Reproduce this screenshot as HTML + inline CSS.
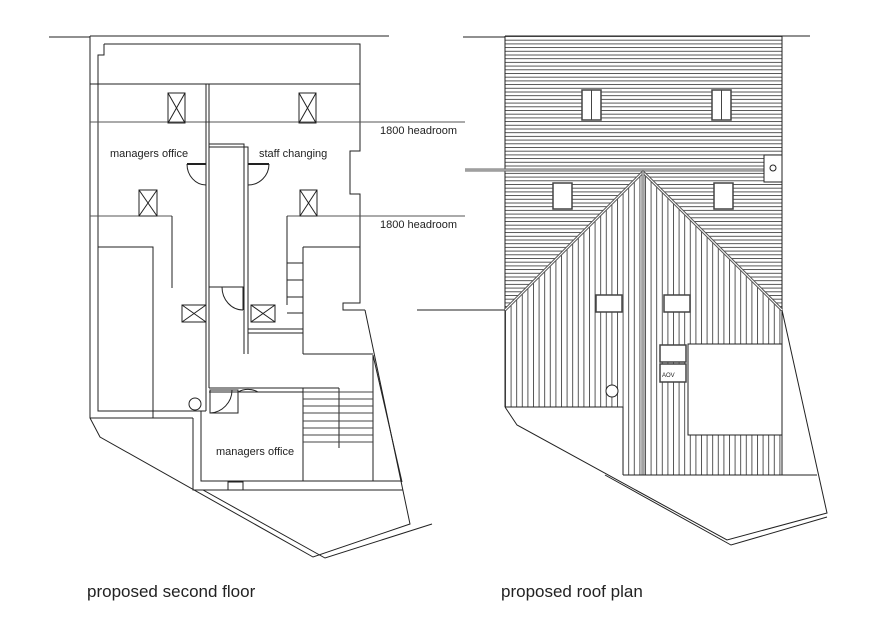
<!DOCTYPE html>
<html><head><meta charset="utf-8"><style>
html,body{margin:0;padding:0;background:#fff;}
svg{display:block;}
text{font-family:"Liberation Sans",sans-serif;fill:#222;}
</style></head><body>
<svg width="886" height="628" viewBox="0 0 886 628" xmlns="http://www.w3.org/2000/svg">
<defs>
<pattern id="hz" width="10" height="3.7" patternUnits="userSpaceOnUse" y="36">
<line x1="0" y1="0.5" x2="10" y2="0.5" stroke="#444" stroke-width="0.9"/>
</pattern>
<pattern id="vt" width="5.6" height="10" patternUnits="userSpaceOnUse" x="505">
<line x1="0.5" y1="0" x2="0.5" y2="10" stroke="#444" stroke-width="0.9"/>
</pattern>
</defs>
<g fill="none" stroke="#222" stroke-width="1">
<!-- LEFT PLAN -->
<line x1="49" y1="37" x2="90" y2="37"/>
<line x1="90" y1="36" x2="389" y2="36"/>
<polyline points="90,36 90,418 100,437 313,557 410,524 365,310"/>
<polyline points="193,418 193,490 203,490 325,558 432,524"/>
<polyline points="373,355 402,482"/>
<polyline points="104,44 360,44 360,151 350,151 350,194 360,194 360,303 343,303 343,310 365,310"/>
<polyline points="104,44 104,55 98,55 98,411 206,411"/>
<line x1="90" y1="418" x2="193" y2="418"/>
<line x1="90" y1="84" x2="360" y2="84"/>
<line x1="90" y1="122" x2="465" y2="122" stroke="#555"/>
<line x1="90" y1="216" x2="172" y2="216" stroke="#555"/>
<line x1="287" y1="216" x2="465" y2="216" stroke="#555"/>
<line x1="206" y1="84" x2="206" y2="411"/>
<line x1="209" y1="84" x2="209" y2="388"/>
<polyline points="209,144 244,144 244,354"/>
<polyline points="209,147 248,147 248,354"/>
<line x1="206" y1="164" x2="187" y2="164" stroke-width="2"/>
<path d="M187,164 A19,21 0 0 0 206,185"/>
<line x1="248" y1="164" x2="269" y2="164" stroke-width="2"/>
<path d="M269,164 A21,21 0 0 1 248,185"/>
<g>
<rect x="168" y="93" width="17" height="30"/><path d="M168,93 L185,123 M185,93 L168,123"/>
<rect x="299" y="93" width="17" height="30"/><path d="M299,93 L316,123 M316,93 L299,123"/>
<rect x="139" y="190" width="18" height="26"/><path d="M139,190 L157,216 M157,190 L139,216"/>
<rect x="300" y="190" width="17" height="26"/><path d="M300,190 L317,216 M317,190 L300,216"/>
<rect x="182" y="305" width="24" height="17"/><path d="M182,305 L206,322 M206,305 L182,322"/>
<rect x="251" y="305" width="24" height="17"/><path d="M251,305 L275,322 M275,305 L251,322"/>
</g>
<polyline points="172,216 172,288"/>
<polyline points="98,247 153,247 153,418"/>
<polyline points="287,216 287,305"/>
<polyline points="303,247 360,247"/>
<line x1="303" y1="247" x2="303" y2="354"/>
<line x1="287" y1="263" x2="303" y2="263"/>
<line x1="287" y1="280" x2="303" y2="280"/>
<line x1="287" y1="297" x2="303" y2="297"/>
<line x1="287" y1="313" x2="303" y2="313"/>
<line x1="248" y1="329" x2="303" y2="329"/>
<line x1="248" y1="333" x2="303" y2="333"/>
<polyline points="303,354 373,354"/>
<polyline points="209,287 243,287 243,310"/>
<path d="M222,287 A21,23 0 0 0 243,310"/>
<line x1="209" y1="388" x2="303" y2="388"/>
<line x1="209" y1="392" x2="303" y2="392"/>
<line x1="303" y1="388" x2="339" y2="388"/>
<line x1="303" y1="388" x2="303" y2="481"/>
<line x1="373" y1="355" x2="373" y2="481"/>
<line x1="339" y1="388" x2="339" y2="448"/>
<g stroke="#444">
<line x1="303" y1="392" x2="373" y2="392"/><line x1="303" y1="399" x2="373" y2="399"/>
<line x1="303" y1="406" x2="373" y2="406"/><line x1="303" y1="413" x2="373" y2="413"/>
<line x1="303" y1="421" x2="373" y2="421"/><line x1="303" y1="428" x2="373" y2="428"/>
<line x1="303" y1="435" x2="373" y2="435"/><line x1="303" y1="442" x2="373" y2="442"/>
</g>
<polyline points="201,411 201,481 402,481"/>
<line x1="193" y1="490" x2="403" y2="490"/>
<rect x="228" y="482" width="15" height="8"/>
<rect x="210" y="390" width="28" height="23"/>
<path d="M232,390 A23,23 0 0 1 210,413" />
<path d="M238,392 L238,413 M238,392 A20,20 0 0 1 258,392"/>
<circle cx="195" cy="404" r="6"/>
<line x1="417" y1="310" x2="505" y2="310"/>
</g>
<text x="110" y="157" font-size="11">managers office</text>
<text x="259" y="157" font-size="11">staff changing</text>
<text x="380" y="134" font-size="11">1800 headroom</text>
<text x="380" y="228" font-size="11">1800 headroom</text>
<text x="216" y="455" font-size="11">managers office</text>

<!-- RIGHT PLAN -->
<rect x="505" y="36" width="277" height="274" fill="url(#hz)"/>
<polygon points="505,310 643,172 782,310 782,475 505,475" fill="#fff"/>
<polygon points="505,310 643,172 782,310 782,475 505,475" fill="url(#vt)"/>
<g fill="none" stroke="#222" stroke-width="1">
<line x1="463" y1="37" x2="505" y2="37"/>
<line x1="505" y1="36" x2="810" y2="36"/>
<line x1="505" y1="36" x2="505" y2="407"/>
<line x1="782" y1="36" x2="782" y2="475"/>
<line x1="465" y1="170" x2="764" y2="170" stroke="#666" stroke-width="3"/>
<line x1="465" y1="170" x2="764" y2="170" stroke="#fff" stroke-width="0.8"/>
<rect x="764" y="155" width="18" height="27" fill="#fff"/>
<circle cx="773" cy="168" r="3"/>
<polyline points="505,310 643,172 782,310" stroke="#555" stroke-width="3"/>
<polyline points="505,310 643,172 782,310" stroke="#fff" stroke-width="1"/>
<line x1="643" y1="172" x2="643" y2="475" stroke="#666" stroke-width="3"/>
<line x1="643" y1="172" x2="643" y2="475" stroke="#fff" stroke-width="0.8"/>
<g fill="#fff" stroke="#444" stroke-width="1.5">
<rect x="582" y="90" width="19" height="30"/><rect x="712" y="90" width="19" height="30"/>
<rect x="553" y="183" width="19" height="26"/><rect x="714" y="183" width="19" height="26"/>
<rect x="596" y="295" width="26" height="17"/><rect x="664" y="295" width="26" height="17"/>
<rect x="660" y="345" width="26" height="17"/><rect x="660" y="364" width="26" height="18"/>
</g>
<line x1="591.5" y1="90" x2="591.5" y2="120" stroke="#444"/>
<line x1="721.5" y1="90" x2="721.5" y2="120" stroke="#444"/>
<rect x="688" y="344" width="94" height="91" fill="#fff"/>
<rect x="504" y="407" width="119" height="70" fill="#fff" stroke="none"/>
<polyline points="505,407 623,407 623,475"/>
<circle cx="612" cy="391" r="6" fill="#fff"/>
<polyline points="505,407 517,425 727,540 827,513 782,310"/>
<polyline points="605,475 731,545 827,517"/>
<line x1="623" y1="475" x2="817" y2="475"/>
</g>
<text x="662" y="377" font-size="6">AOV</text>
<text x="87" y="597" font-size="17">proposed second floor</text>
<text x="501" y="597" font-size="17">proposed roof plan</text>
</svg>
</body></html>
